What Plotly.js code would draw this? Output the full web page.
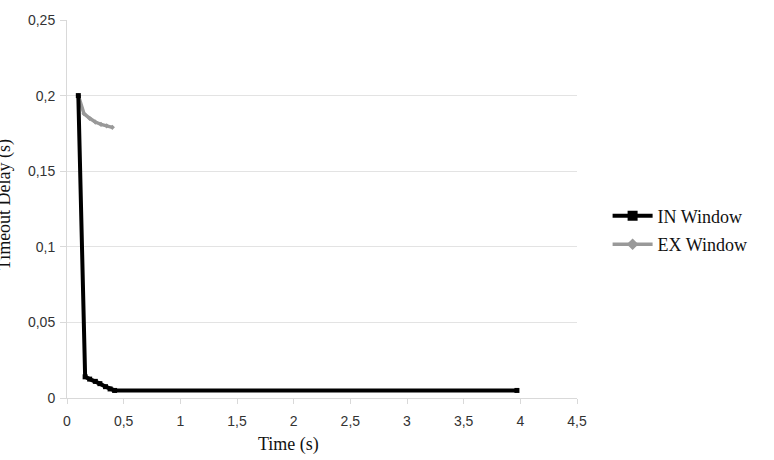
<!DOCTYPE html>
<html>
<head>
<meta charset="utf-8">
<script src="https://cdn.plot.ly/plotly-3.0.1.min.js"></script>
<style>html,body{margin:0;padding:0;background:#fff;}#chart{width:774px;height:460px;}</style>
</head>
<body>
<div id="chart"></div>
<script>
// Data
const inTime = [0.1, 0.16, 0.2, 0.25, 0.29, 0.34, 0.38, 0.42, 3.97];
const inDelay = [0.2, 0.014, 0.0125, 0.011, 0.0095, 0.0075, 0.006, 0.005, 0.005];
const exTime = [0.1, 0.15, 0.2, 0.25, 0.3, 0.35, 0.4];
const exDelay = [0.2, 0.188, 0.185, 0.1825, 0.181, 0.18, 0.179];
const seriesNames = ['IN Window', 'EX Window'];
const xTicks = [0, 0.5, 1, 1.5, 2, 2.5, 3, 3.5, 4, 4.5];
const yTicks = [0, 0.05, 0.1, 0.15, 0.2, 0.25];

const serif = 'Liberation Serif, Times New Roman, serif';
const sans = 'Liberation Sans, Arial, sans-serif';
const inColor = '#000000';
const exColor = '#999999';

const traces = [
  {x: exTime, y: exDelay, type: 'scatter', mode: 'lines+markers', showlegend: false,
   line: {color: exColor, width: 3.5}, marker: {symbol: 'diamond', size: 4, color: exColor}},
  {x: inTime, y: inDelay, type: 'scatter', mode: 'lines+markers', showlegend: false,
   line: {color: inColor, width: 4}, marker: {symbol: 'square', size: 5, color: inColor}},
  {x: [null], y: [null], type: 'scatter', mode: 'lines+markers', name: seriesNames[0], legendgroup: 'a',
   line: {color: inColor, width: 4}, marker: {symbol: 'square', size: 10, color: inColor}},
  {x: [null], y: [null], type: 'scatter', mode: 'lines+markers', name: seriesNames[1], legendgroup: 'b',
   line: {color: exColor, width: 3.5}, marker: {symbol: 'diamond', size: 9, color: exColor}}
];

const layout = {
  width: 774, height: 460,
  margin: {l: 67, r: 197, t: 20, b: 62},
  paper_bgcolor: '#ffffff', plot_bgcolor: '#ffffff',
  separators: ', ',
  showlegend: true,
  legend: {x: 1.06, xanchor: 'left', y: 0.444, yanchor: 'middle', tracegroupgap: 2,
           font: {family: serif, size: 18, color: '#111'}, itemwidth: 40, bgcolor: 'rgba(0,0,0,0)'},
  xaxis: {range: [0, 4.5], tickvals: xTicks, showgrid: false, zeroline: false,
          showline: true, linecolor: '#d9d9d9', linewidth: 1,
          ticks: 'outside', ticklen: 5, tickcolor: '#d9d9d9', ticklabelstandoff: 5,
          tickfont: {family: sans, size: 14, color: '#333'}},
  yaxis: {range: [0, 0.25], tickvals: yTicks, showgrid: true, gridcolor: '#e3e3e3', zeroline: false,
          showline: true, linecolor: '#d9d9d9', linewidth: 1,
          ticks: 'outside', ticklen: 6, tickcolor: '#d9d9d9', ticklabelstandoff: 2,
          tickfont: {family: sans, size: 14, color: '#333'}},
  annotations: [
    {text: 'Time (s)', xref: 'paper', yref: 'paper', x: 0.435, y: -0.124, xanchor: 'center', yanchor: 'middle',
     showarrow: false, font: {family: serif, size: 18, color: '#111'}},
    {text: 'Timeout Delay (s)', xref: 'paper', yref: 'paper', x: -0.1235, y: 0.51, xanchor: 'center', yanchor: 'middle',
     textangle: -90, showarrow: false, font: {family: serif, size: 18, color: '#111'}}
  ]
};

Plotly.newPlot('chart', traces, layout, {displayModeBar: false, staticPlot: true});
</script>
</body>
</html>
